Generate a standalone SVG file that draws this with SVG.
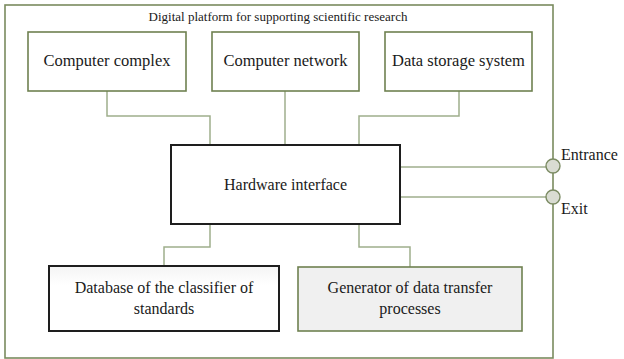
<svg xmlns="http://www.w3.org/2000/svg" width="624" height="359" viewBox="0 0 624 359">
  <defs>
    <linearGradient id="dbFill" x1="0" y1="0" x2="0" y2="1">
      <stop offset="0" stop-color="#f4f4f4"/>
      <stop offset="0.3" stop-color="#ffffff"/>
      <stop offset="1" stop-color="#ffffff"/>
    </linearGradient>
  </defs>
  <style>
    text { font-family: Tinos, "Liberation Serif", "Noto Serif", "DejaVu Serif", "Times New Roman", Times, serif; fill: #1a1a1a; }
    .lbl { font-size: 16px; text-anchor: middle; }
    .top { font-size: 16.5px; text-anchor: middle; }
    .olive { fill: #ffffff; stroke: #6f8150; stroke-width: 1.6; }
    .dark { fill: #ffffff; stroke: #1e1e1e; stroke-width: 2; }
    .wire { fill: none; stroke: #9fae8c; stroke-width: 1.5; }
    .port { fill: #d9dcd2; stroke: #7b8b63; stroke-width: 1.4; }
  </style>

  <!-- platform frame -->
  <g id="platform">
    <rect x="5" y="5" width="548" height="353" fill="#ffffff" stroke="#7a8b5e" stroke-width="1.6"/>
    <text x="278" y="21" font-size="13" text-anchor="middle">Digital platform for supporting scientific research</text>
  </g>

  <!-- connectors -->
  <g id="connectors">
    <polyline class="wire" points="107,91 107,116 210,116 210,145"/>
    <polyline class="wire" points="285,91 285,145"/>
    <polyline class="wire" points="459,91 459,116 359,116 359,145"/>
    <polyline class="wire" points="210,224 210,247 164,247 164,266"/>
    <polyline class="wire" points="359,224 359,247 410,247 410,267"/>
    <line class="wire" x1="400" y1="167" x2="547" y2="167"/>
    <line class="wire" x1="400" y1="197" x2="547" y2="197"/>
  </g>

  <g id="computer-complex">
    <rect class="olive" x="28" y="32" width="158" height="59"/>
    <text class="top" x="107" y="66">Computer complex</text>
  </g>

  <g id="computer-network">
    <rect class="olive" x="212" y="32" width="147" height="59"/>
    <text class="top" x="285.5" y="66">Computer network</text>
  </g>

  <g id="data-storage">
    <rect class="olive" x="385" y="32" width="147" height="59"/>
    <text class="top" x="458.5" y="66">Data storage system</text>
  </g>

  <g id="hardware-interface">
    <rect class="dark" x="171" y="145" width="229" height="79"/>
    <text class="lbl" x="285.5" y="190">Hardware interface</text>
  </g>

  <g id="classifier-database">
    <rect x="49" y="266" width="230" height="65" fill="url(#dbFill)" stroke="#1e1e1e" stroke-width="2"/>
    <text class="lbl" x="164" y="293">Database of the classifier of</text>
    <text class="lbl" x="164" y="314">standards</text>
  </g>

  <g id="transfer-generator">
    <rect x="298" y="267" width="224" height="64" fill="#f0f0f0" stroke="#6f8150" stroke-width="1.6"/>
    <text class="lbl" x="410" y="293">Generator of data transfer</text>
    <text class="lbl" x="410" y="314">processes</text>
  </g>

  <g id="entrance">
    <circle class="port" cx="553" cy="166" r="7"/>
    <text x="561" y="160" font-size="16">Entrance</text>
  </g>

  <g id="exit">
    <circle class="port" cx="553" cy="197" r="7"/>
    <text x="561" y="214" font-size="16">Exit</text>
  </g>
</svg>
